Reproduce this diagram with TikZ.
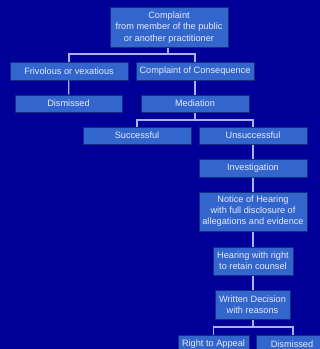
\documentclass[tikz,border=0pt]{standalone}
\usepackage{fontspec}
\setmainfont{Liberation Sans}
\usetikzlibrary{positioning, calc}
\definecolor{cpback}{RGB}{0, 0, 153}
\definecolor{cpbox}{RGB}{51, 102, 204}
\definecolor{cpedge}{RGB}{20, 45, 130}
\definecolor{cpline}{RGB}{175, 175, 250}
\definecolor{cptext}{RGB}{232, 232, 250}
\tikzset{
  block/.style={rectangle, draw=cpedge, line width=1pt, fill=cpbox, text=cptext,
                minimum width=#1, align=center, inner sep=1pt,
                font=\fontsize{9.2}{11.5}\selectfont},
  block/.default=108pt,
  link/.style={draw=cpline, line width=1.3pt},
}

\begin{document}
\begin{tikzpicture}[x=1pt, y=-1pt]
        \fill[cpback] (0,0) rectangle (320,349);
        \useasboundingbox (0,0) rectangle (320,349);

        \node[block=118pt, minimum height=40pt] (compl) at (169, 27.5)
             {Complaint\\from member of the public\\or another practitioner};
        \node[block=118pt, minimum height=18pt] (frivol) at (69, 71) {Frivolous or vexatious};
        \node[block=118pt, minimum height=18pt] (conseq) at (195, 71) {Complaint of Consequence};
        \node[block=107pt, minimum height=17pt] (dism1) at (68.5, 103.5) {Dismissed};
        \node[block, minimum height=17pt] (medi) at (195, 103.5) {Mediation};
        \node[block, minimum height=17pt] (succ) at (137, 135.5) {Successful};
        \node[block, minimum height=17pt] (unsucc) at (253, 135.5) {Unsuccessful};
        \node[block, minimum height=18pt] (invest) at (253, 168) {Investigation};
        \node[block, minimum height=39pt, font=\fontsize{9.2}{11}\selectfont] (notice) at (253, 211.5)
             {Notice of Hearing\\with full disclosure of\\allegations and evidence};
        \node[block=80pt, minimum height=28pt, font=\fontsize{9.2}{11}\selectfont] (hear) at (253, 261)
             {Hearing with right\\to retain counsel};
        \node[block=75pt, minimum height=29pt, font=\fontsize{9.2}{11}\selectfont] (decis) at (252.5, 304.5)
             {Written Decision\\with reasons};
        \node[block=71pt, minimum height=18pt] (appeal) at (213.5, 344) {Right to Appeal};
        \node[block=72pt, minimum height=18pt] (dism2) at (292, 344) {Dismissed};

        % junctions
        \coordinate (j1) at (168, 54);
        \coordinate (j2) at (195, 120);
        \coordinate (j3) at (253, 327);
        \coordinate (j4) at (293, 335);

        \draw[link] (compl.south -| j1) -- (j1);
        \draw[link] (frivol.north) |- (j1) -| (conseq.north);
        \draw[link] (frivol) -- (dism1);
        \draw[link] (conseq) -- (medi);
        \draw[link] (medi.south) -- (j2);
        \draw[link] (succ.north) |- (j2) -| (unsucc.north);
        \draw[link] (unsucc) -- (invest);
        \draw[link] (invest) -- (notice);
        \draw[link] (notice) -- (hear);
        \draw[link] (hear) -- (decis.north -| hear);
        \draw[link] (decis.south -| j3) -- (j3);
        \draw[link] (appeal.north) |- (j3) -| (j4);
\end{tikzpicture}
\end{document}
